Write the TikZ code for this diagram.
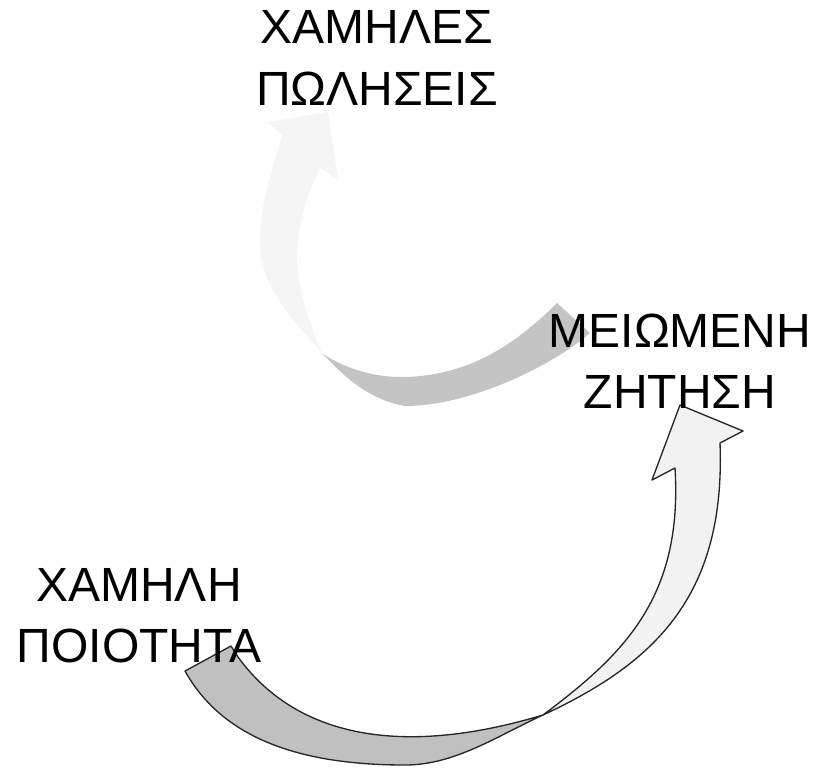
\documentclass[tikz,border=0pt]{standalone}
\usepackage{fontspec}
\setmainfont{Liberation Sans}
\definecolor{arcgray}{HTML}{C4C4C4}
\definecolor{arclight}{HTML}{F5F5F5}
\definecolor{bandgray}{HTML}{C0C0C0}
\definecolor{bandlight}{HTML}{F2F2F2}

\begin{document}
\begin{tikzpicture}[x=0.75pt,y=-0.75pt,
  lbl/.style={align=center,inner sep=0pt,font=\fontsize{36}{46}\selectfont},
  band/.style={draw=black!85,line width=1pt,line join=round}]
  \useasboundingbox (0,0) rectangle (818,769);
  \coordinate (twistA) at (322,353); \coordinate (twistB) at (543,715);
  \fill[arcgray] (557,303) .. controls (508,352) and (460,377) .. (400,377) .. controls (370,377) and (340,366) .. (twistA)
    .. controls (345,378) and (370,400) .. (405,406) .. controls (470,406) and (552,366) .. (590,333) -- cycle;
  \fill[arclight] (twistA) .. controls (299,326) and (261,290) .. (260,245) .. controls (260,205) and (271,173) .. (282,135)
    -- (267,122) -- (328,112) -- (338,180) -- (320,168) .. controls (308,192) and (298,222) .. (297,257)
    .. controls (297,290) and (312,330) .. (twistA) -- cycle;
  \path[band,fill=bandgray] (185,671) -- (231,646) -- (238,657) .. controls (300,742) and (410,755) .. (twistB)
    .. controls (497,736) and (455,765) .. (405,765) .. controls (305,765) and (224,741) .. (185,671) -- cycle;
  \path[band,fill=bandlight] (twistB) .. controls (623,655) and (683,598) .. (675,468)
    -- (652,480) -- (680,405) -- (743,431) -- (720,443) .. controls (726,600) and (650,665) .. (twistB) -- cycle;
  \node[lbl] (sales) at (377,58) {ΧΑΜΗΛΕΣ\\ΠΩΛΗΣΕΙΣ};
  \node[lbl] (demand) at (680,361) {ΜΕΙΩΜΕΝΗ\\ΖΗΤΗΣΗ};
  \node[lbl] (quality) at (139,616) {ΧΑΜΗΛΗ\\ΠΟΙΟΤΗΤΑ};
\end{tikzpicture}
\end{document}
